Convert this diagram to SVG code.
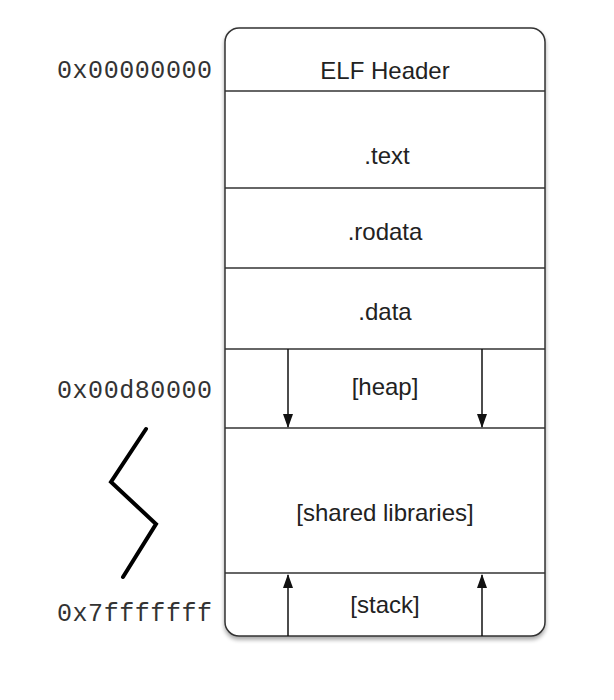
<svg xmlns="http://www.w3.org/2000/svg" width="614" height="700" viewBox="0 0 614 700">
<defs>
<style>
.seg{font-family:"Liberation Sans",Arial,sans-serif;font-size:24px;fill:#222;text-anchor:middle}
.addr{font-family:"Liberation Mono","DejaVu Sans Mono",monospace;font-size:25px;fill:#333;text-anchor:end}
.div{stroke:#333;stroke-width:1.5;fill:none}
.arr{stroke:#111;stroke-width:1.5;fill:none}
</style>
<marker id="ah" viewBox="0 0 14 10" refX="13" refY="5" markerWidth="14" markerHeight="10" markerUnits="userSpaceOnUse" orient="auto">
<path d="M0,0 L14,5 L0,10 Z" fill="#111"/>
</marker>
<filter id="sh" x="-5%" y="-5%" width="110%" height="110%">
<feGaussianBlur in="SourceAlpha" stdDeviation="2"/>
<feOffset dx="0" dy="3"/>
<feComponentTransfer><feFuncA type="linear" slope="0.35"/></feComponentTransfer>
<feMerge><feMergeNode/><feMergeNode in="SourceGraphic"/></feMerge>
</filter>
</defs>
<rect width="614" height="700" fill="#fff"/>
<g id="memory">
<rect x="225" y="28" width="320" height="608" rx="14" ry="14" fill="#fff" stroke="#333" stroke-width="1.5" filter="url(#sh)"/>
<line class="div" x1="225" y1="91" x2="545" y2="91"/>
<line class="div" x1="225" y1="188" x2="545" y2="188"/>
<line class="div" x1="225" y1="268" x2="545" y2="268"/>
<line class="div" x1="225" y1="349" x2="545" y2="349"/>
<line class="div" x1="225" y1="428" x2="545" y2="428"/>
<line class="div" x1="225" y1="573" x2="545" y2="573"/>
</g>
<g id="elf-header"><text class="seg" x="385" y="79">ELF Header</text></g>
<g id="text"><text class="seg" x="387" y="164">.text</text></g>
<g id="rodata"><text class="seg" x="385" y="240">.rodata</text></g>
<g id="data"><text class="seg" x="385" y="320">.data</text></g>
<g id="heap"><text class="seg" x="385" y="395">[heap]</text></g>
<g id="shared"><text class="seg" x="385" y="521">[shared libraries]</text></g>
<g id="stack"><text class="seg" x="385" y="613">[stack]</text></g>
<g id="connectors">
<line class="arr" x1="288" y1="349" x2="288" y2="427" marker-end="url(#ah)"/>
<line class="arr" x1="482" y1="349" x2="482" y2="427" marker-end="url(#ah)"/>
<line class="arr" x1="288" y1="636" x2="288" y2="575" marker-end="url(#ah)"/>
<line class="arr" x1="482" y1="636" x2="482" y2="575" marker-end="url(#ah)"/>
</g>
<g id="addresses">
<text class="addr" x="212" y="78" textLength="155" lengthAdjust="spacing">0x00000000</text>
<text class="addr" x="212" y="398" textLength="155" lengthAdjust="spacing">0x00d80000</text>
<text class="addr" x="212" y="621" textLength="155" lengthAdjust="spacing">0x7fffffff</text>
</g>
<g id="break">
<polyline points="146,429 111,482 156,524 123,577" fill="none" stroke="#000" stroke-width="4" stroke-linecap="round" stroke-linejoin="miter"/>
</g>
</svg>
